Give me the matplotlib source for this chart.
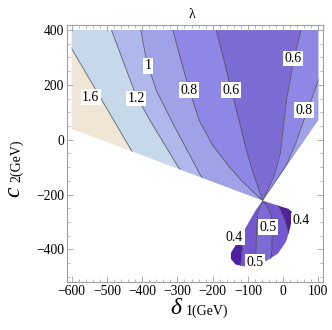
import numpy as np
import matplotlib
matplotlib.use('Agg')
import matplotlib.pyplot as plt
from matplotlib.patches import Polygon
from matplotlib.ticker import MultipleLocator

plt.rcParams['font.family'] = ['Liberation Serif', 'DejaVu Serif']

# allowed region in (delta1, c2)
upper_d = [-600, 100, 100, -58, -600]
upper_c = [400, 400, 72, -222, 40]
lobe_d = [-58, -20, 15, 24, 25, 18, 8, -15, -45, -80, -110, -135, -148, -148, -135, -115, -95, -77]
lobe_c = [-222, -238, -252, -262, -290, -330, -372, -415, -440, -458, -462, -455, -435, -412, -385, -340, -295, -255]

# contour lines (top -> bottom), upper part
l16_d = [-650, -600, -420, -380]
l16_c = [442, 332, -62, -150]
l12_d = [-497, -487, -455, -420, -380, -300, -260]
l12_c = [440, 400, 290, 170, 75, -95, -170]
l10_d = [-408, -404, -388, -360, -317, -237, -200]
l10_c = [440, 400, 290, 180, 70, -124, -200]
l08a_d = [-318, -313, -290, -266, -238, -200, -155, -119, -85, -58]
l08a_c = [440, 400, 290, 180, 70, -20, -95, -148, -190, -222]
l06a_d = [-195, -190, -168, -147, -125, -106, -88, -72, -58]
l06a_c = [440, 400, 290, 180, 70, -30, -110, -170, -222]
l06b_d = [56, 51, 35, 27, 10, 0, -8, -25, -58]
l06b_c = [440, 400, 320, 270, 150, 40, -50, -130, -222]
l08b_d = [170, 125, 98, 55, 35, 10, -20, -58]
l08b_c = [460, 300, 210, 58, -15, -90, -150, -222]

# contour lines, lower lobe
l04a_d = [-140, -125, -116, -118, -121, -122]
l04a_c = [-320, -365, -392, -420, -470, -500]
l05a_d = [-58, -66, -72, -75, -77, -78, -79]
l05a_c = [-222, -245, -270, -320, -400, -445, -500]
l05b_d = [-58, -45, -34, -31, -32, -36, -40]
l05b_c = [-222, -245, -275, -320, -400, -440, -500]
l04b_d = [-25, -10, 5, 15, 25]
l04b_c = [-215, -248, -290, -335, -380]

# band colours
col_16 = '#EFE6D5'
col_12 = '#C6D8E9'
col_10 = '#AFB8EA'
col_08 = '#A0A2E7'
col_06 = '#8E87E5'
col_05 = '#7E6CD5'
col_04 = '#7358CE'
col_03 = '#4E1F9F'

# contour labels
lab_txt = ['1.6', '1.2', '1', '0.8', '0.6', '0.6', '0.8', '0.4', '0.5', '0.4', '0.5']
lab_d = [-546, -417, -384, -266, -147, 27, 60, 51, -44, -138, -81]
lab_c = [155, 150, 270, 180, 180, 296, 107, -295, -319, -355, -447]

fig = plt.figure(figsize=(3.32, 3.30), dpi=100)
ax = fig.add_axes([0.201, 0.146, 0.773, 0.778])
ax.set_xlim(-614, 114)
ax.set_ylim(-518, 418)


def band(ax, clip, d1, c1, d2, c2, col):
    # polygon between two lines given top -> bottom
    xs = list(d1) + list(d2)[::-1]
    ys = list(c1) + list(c2)[::-1]
    p = ax.fill(xs, ys, fc=col, ec=col, lw=0.4, zorder=1)[0]
    p.set_clip_path(clip)


def cline(ax, clip, d, c):
    ln, = ax.plot(d, c, color='#4a4a4a', lw=0.6, alpha=0.8, zorder=2)
    ln.set_clip_path(clip)


clip_up = Polygon(np.column_stack([upper_d, upper_c]), closed=True, transform=ax.transData)
clip_lo = Polygon(np.column_stack([lobe_d, lobe_c]), closed=True, transform=ax.transData)

# upper region
band(ax, clip_up, [-900, -900], [700, -300], l16_d, l16_c, col_16)
band(ax, clip_up, l16_d, l16_c, l12_d, l12_c, col_12)
band(ax, clip_up, l12_d, l12_c, l10_d, l10_c, col_10)
band(ax, clip_up, l10_d, l10_c, l08a_d, l08a_c, col_08)
band(ax, clip_up, l08a_d, l08a_c, l06a_d, l06a_c, col_06)
band(ax, clip_up, l06a_d, l06a_c, l06b_d, l06b_c, col_05)
band(ax, clip_up, l06b_d, l06b_c, l08b_d, l08b_c, col_06)
band(ax, clip_up, l08b_d, l08b_c, [300, 300], [700, -400], col_08)
for d, c in [(l16_d, l16_c), (l12_d, l12_c), (l10_d, l10_c), (l08a_d, l08a_c),
             (l06a_d, l06a_c), (l06b_d, l06b_c), (l08b_d, l08b_c)]:
    cline(ax, clip_up, d, c)

# lower lobe
band(ax, clip_lo, [-400, -400], [-200, -700], l04a_d, l04a_c, col_03)
band(ax, clip_lo, l04a_d, l04a_c, l05a_d, l05a_c, col_04)
band(ax, clip_lo, l05a_d, l05a_c, l05b_d, l05b_c, col_05)
band(ax, clip_lo, l05b_d, l05b_c, l04b_d, l04b_c, col_04)
band(ax, clip_lo, l04b_d, l04b_c, [200, 200], [-100, -700], col_03)
for d, c in [(l04a_d, l04a_c), (l05a_d, l05a_c), (l05b_d, l05b_c), (l04b_d, l04b_c)]:
    cline(ax, clip_lo, d, c)

for t, d, c in zip(lab_txt, lab_d, lab_c):
    ax.text(d, c, t, fontsize=10, ha='center', va='center', zorder=5,
            bbox=dict(fc='white', ec='none', pad=1.0))

# frame in Mathematica style
for s in ax.spines.values():
    s.set_color('#a0a0a0')
    s.set_linewidth(0.8)
ax.xaxis.set_major_locator(MultipleLocator(100))
ax.xaxis.set_minor_locator(MultipleLocator(20))
ax.yaxis.set_major_locator(MultipleLocator(200))
ax.yaxis.set_minor_locator(MultipleLocator(50))
ax.tick_params(which='both', direction='in', top=True, right=True, color='#a0a0a0',
               labelsize=9.8, pad=2)
ax.tick_params(which='major', length=4, width=0.6)
ax.tick_params(which='minor', length=2, width=0.5)

fig.text(192 / 332, 1 - 15 / 330, 'λ', fontsize=10, ha='center', va='center')
fig.text(176 / 332, 1 - 309 / 330, 'δ', fontsize=17, style='italic', ha='center', va='center')
fig.text(186 / 332, 1 - 311 / 330, '1(GeV)', fontsize=10, ha='left', va='center')
fig.text(14 / 332, 1 - 192 / 330, 'c', fontsize=17, style='italic', rotation=90, ha='center', va='center')
fig.text(17 / 332, 1 - 182 / 330, '2(GeV)', fontsize=10, rotation=90, ha='center', va='bottom')

plt.savefig('out.png', dpi=100)
